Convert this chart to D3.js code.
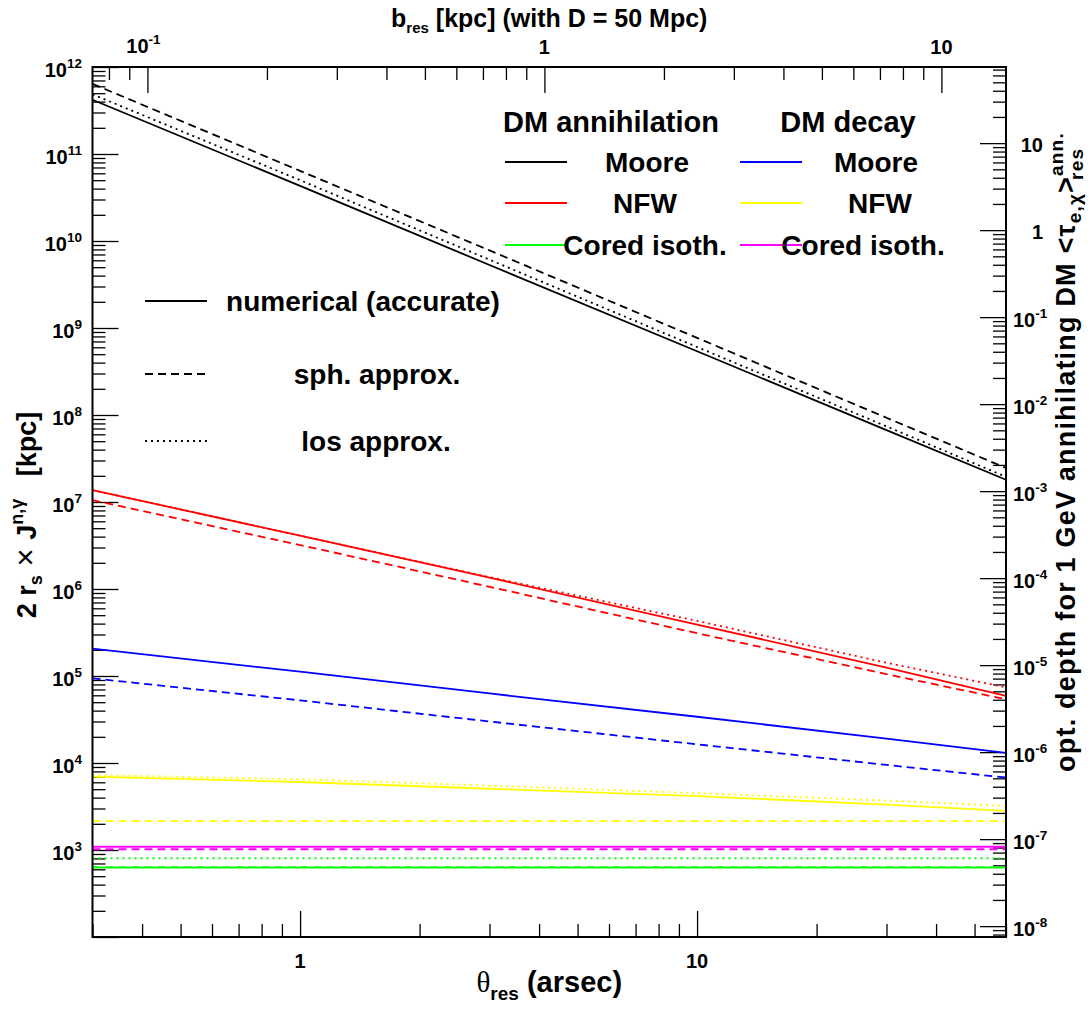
<!DOCTYPE html>
<head>
  <meta charset="UTF-8">
  <style>
    *{ margin: 0px; }
    svg{
      position: absolute;
      font-family: "Liberation Sans", Arial, sans-serif;
      font-weight: bold;
    }
    .lbl{ font-size: 20px; }
    .sup{ font-size: 13.5px; }
  </style>
  <script src="https://d3js.org/d3.v7.min.js"></script>
</head>

<body style="background-color: white">
  <svg id="chart" width="1091" height="1009" style="background-color: white"></svg>

  <script>
    // resolution angle (arcsec) at which the curves were read
    var theta = [0.3, 1, 3, 10, 30, 60];

    // DM annihilation, 2 r_s x J [kpc]
    var mooreAnnNum = [4.2e11, 4.3e10, 5.3e9, 5.4e8, 6.7e7, 1.8e7];
    var mooreAnnSph = [6.4e11, 6.4e10, 7.8e9, 7.7e8, 9.3e7, 2.46e7];
    var mooreAnnLos = [4.85e11, 5.0e10, 6.1e9, 6.05e8, 7.4e7, 1.95e7];
    var nfwAnnNum = [1.37e7, 4.1e6, 1.35e6, 3.9e5, 1.25e5, 5.9e4];
    var nfwAnnSph = [1.05e7, 3.2e6, 1.06e6, 3.1e5, 1.05e5, 5.4e4];
    var nfwAnnLos = [1.37e7, 4.1e6, 1.37e6, 4.3e5, 1.42e5, 7.4e4];
    var coredAnnNum = [626, 626, 626, 626, 626, 626];
    var coredAnnSph = [634, 634, 634, 634, 634, 634];
    var coredAnnLos = [804, 804, 804, 804, 804, 804];

    // DM decay
    var mooreDecNum = [2.06e5, 1.12e5, 6.3e4, 3.4e4, 1.91e4, 1.31e4];
    var mooreDecSph = [9.4e4, 5.25e4, 3.0e4, 1.64e4, 9.5e3, 6.8e3];
    var nfwDecNum = [6.97e3, 6.05e3, 5.06e3, 4.16e3, 3.33e3, 2.81e3];
    var nfwDecSph = [2150, 2150, 2150, 2150, 2150, 2150];
    var nfwDecLos = [7.28e3, 6.5e3, 5.5e3, 4.5e3, 3.7e3, 3.21e3];
    var coredDecNum = [1090, 1090, 1090, 1090, 1090, 1090];
    var coredDecSph = [1020, 1020, 1020, 1020, 1020, 1020];

    var KPC_PER_ARCSEC = 0.2424;   // D = 50 Mpc
    var TAU_PER_J = 7.5e-11;       // opt. depth for 1 GeV annihilating DM

    var series = [
      {v: mooreAnnLos, c: "#000000", s: "los"},
      {v: mooreAnnSph, c: "#000000", s: "sph"},
      {v: mooreAnnNum, c: "#000000", s: "num"},
      {v: nfwAnnLos, c: "#ff0000", s: "los"},
      {v: nfwAnnSph, c: "#ff0000", s: "sph"},
      {v: nfwAnnNum, c: "#ff0000", s: "num"},
      {v: mooreDecSph, c: "#0000ff", s: "sph"},
      {v: mooreDecNum, c: "#0000ff", s: "num"},
      {v: nfwDecLos, c: "#ffff00", s: "los"},
      {v: nfwDecSph, c: "#ffff00", s: "sph"},
      {v: nfwDecNum, c: "#ffff00", s: "num"},
      {v: coredDecSph, c: "#ff00ff", s: "sph"},
      {v: coredDecNum, c: "#ff00ff", s: "num"},
      {v: coredAnnLos, c: "#00ff00", s: "los"},
      {v: coredAnnSph, c: "#00ff00", s: "sph"},
      {v: coredAnnNum, c: "#00ff00", s: "num"}
    ];
    var dash = {num: null, sph: "8,5", los: "2,4"};

    var svg = d3.select("#chart");
    var L = 92.5, R = 1006, T = 67, B = 937;

    var x = d3.scaleLog().domain([0.3, 60]).range([L, R]);
    var y = d3.scaleLog().domain([1e2, 1e12]).range([B, T]);
    var xTop = d3.scaleLog().domain([0.3 * KPC_PER_ARCSEC, 60 * KPC_PER_ARCSEC]).range([L, R]);
    var yRight = d3.scaleLog().domain([1e2 * TAU_PER_J, 1e12 * TAU_PER_J]).range([B, T]);

    function minors(scale){
      var d = scale.domain(), out = [];
      for(var e = Math.floor(Math.log10(d[0])); e <= Math.ceil(Math.log10(d[1])); e++){
        for(var k = 2; k <= 9; k++){
          var v = k * Math.pow(10, e);
          if(v >= d[0] && v <= d[1]) out.push(v);
        }
      }
      return out;
    }
    function majors(scale){
      var d = scale.domain(), out = [];
      for(var e = Math.ceil(Math.log10(d[0]) - 1e-9); e <= Math.floor(Math.log10(d[1]) + 1e-9); e++){
        out.push(Math.pow(10, e));
      }
      return out;
    }

    function ticks(axisFn, scale, tx, ty){
      [[majors(scale), 26], [minors(scale), 13]].forEach(function(p){
        svg.append("g")
          .attr("transform", "translate(" + tx + "," + ty + ")")
          .call(axisFn(scale).tickValues(p[0]).tickSize(-p[1]).tickFormat(""))
          .call(g => g.select(".domain").remove())
          .selectAll("line").attr("stroke", "black").attr("stroke-width", 1.3);
      });
    }
    ticks(d3.axisLeft, y, L, 0);
    ticks(d3.axisBottom, x, 0, B);
    ticks(d3.axisTop, xTop, 0, T);
    ticks(d3.axisRight, yRight, R, 0);

    // curves
    var line = d3.line()
      .x((d, i) => x(theta[i]))
      .y(d => y(d));
    svg.append("g")
      .selectAll("path")
      .data(series)
      .join("path")
      .attr("d", d => line(d.v))
      .attr("fill", "none")
      .attr("stroke", d => d.c)
      .attr("stroke-width", 1.8)
      .attr("stroke-dasharray", d => dash[d.s]);

    // frame
    svg.append("rect")
      .attr("x", L).attr("y", T)
      .attr("width", R - L).attr("height", B - T)
      .attr("fill", "none").attr("stroke", "black").attr("stroke-width", 2);

    // tick labels
    function expLabel(px, py, e, anchor){
      var t = svg.append("text").attr("class", "lbl")
        .attr("x", px).attr("y", py).attr("text-anchor", anchor).text("10");
      t.append("tspan").attr("class", "sup").attr("dy", -9).text(e);
      return t;
    }
    majors(y).forEach(function(v){
      var e = Math.round(Math.log10(v));
      if(e < 3) return;
      expLabel(82, y(v) + 10, e, "end");
    });
    majors(yRight).forEach(function(v){
      var e = Math.round(Math.log10(v));
      if(e < 0) expLabel(1013, yRight(v) + 10, e, "start");
      else svg.append("text").attr("class", "lbl").attr("x", 1043).attr("y", yRight(v) + 9)
        .attr("text-anchor", "end").text(v);
    });
    majors(x).forEach(function(v){
      svg.append("text").attr("class", "lbl").attr("x", x(v)).attr("y", 968)
        .attr("text-anchor", "middle").text(v);
    });
    majors(xTop).forEach(function(v){
      var e = Math.round(Math.log10(v));
      if(e < 0) expLabel(xTop(v) - 4, 53, e, "middle");
      else svg.append("text").attr("class", "lbl").attr("x", xTop(v)).attr("y", 54)
        .attr("text-anchor", "middle").text(v);
    });

    // axis titles
    var bt = svg.append("text").attr("x", (L + R) / 2).attr("y", 992)
      .attr("text-anchor", "middle").attr("font-size", "29px");
    bt.append("tspan").attr("font-family", "Liberation Serif").attr("font-weight", "normal").text("θ");
    bt.append("tspan").attr("font-size", "19px").attr("dy", 8).text("res");
    bt.append("tspan").attr("dy", -8).text(" (arsec)");

    var tt = svg.append("text").attr("x", (L + R) / 2).attr("y", 27)
      .attr("text-anchor", "middle").attr("font-size", "25px");
    tt.append("tspan").text("b");
    tt.append("tspan").attr("font-size", "15px").attr("dy", 6).text("res");
    tt.append("tspan").attr("dy", -6).text(" [kpc] (with D = 50 Mpc)");

    var lt = svg.append("text").attr("transform", "translate(36,515) rotate(-90)")
      .attr("text-anchor", "middle").attr("font-size", "27px").style("white-space", "pre");
    lt.append("tspan").text("2 r");
    lt.append("tspan").attr("font-size", "18px").attr("dy", 6).text("s");
    lt.append("tspan").attr("dy", -6).attr("font-weight", "normal").attr("font-size", "31px").text(" × ");
    lt.append("tspan").text("J");
    lt.append("tspan").attr("font-size", "18px").attr("dy", -13).text("n,γ");
    lt.append("tspan").attr("dy", 13).text("   [kpc]");

    var rt = svg.append("text").attr("transform", "translate(1075,452) rotate(-90)")
      .attr("text-anchor", "middle").attr("font-size", "27px").attr("letter-spacing", "1.2px");
    rt.append("tspan").text("opt. depth for 1 GeV annihilating DM <τ");
    rt.append("tspan").attr("font-size", "19px").attr("dy", 6).text("e,χ");
    rt.append("tspan").attr("dy", -6).text(">");
    var ann = rt.append("tspan").attr("font-size", "19px").attr("dy", -12).text("ann.");
    rt.append("tspan").attr("font-size", "19px").attr("dy", 20)
      .attr("dx", -ann.node().getComputedTextLength() - 4).text("res");

    // legend: profiles
    var profiles = [
      {x0: 505, rows: [["Moore", "#000000", 647], ["NFW", "#ff0000", 645], ["Cored isoth.", "#00ff00", 645]], head: ["DM annihilation", 611]},
      {x0: 740, rows: [["Moore", "#0000ff", 876], ["NFW", "#ffff00", 880], ["Cored isoth.", "#ff00ff", 863]], head: ["DM decay", 848]}
    ];
    var rowY = [162, 203, 245];
    profiles.forEach(function(p){
      svg.append("text").attr("x", p.head[1]).attr("y", 132).attr("text-anchor", "middle")
        .attr("font-size", "29px").text(p.head[0]);
      p.rows.forEach(function(r, i){
        svg.append("line").attr("x1", p.x0).attr("x2", p.x0 + 62)
          .attr("y1", rowY[i]).attr("y2", rowY[i]).attr("stroke", r[1]).attr("stroke-width", 1.8);
        svg.append("text").attr("x", r[2]).attr("y", rowY[i] + 10).attr("text-anchor", "middle")
          .attr("font-size", "28px").text(r[0]);
      });
    });

    // legend: methods
    var methods = [["numerical (accurate)", "num", 301, 363], ["sph. approx.", "sph", 374, 377], ["los approx.", "los", 441, 376]];
    methods.forEach(function(m){
      svg.append("line").attr("x1", 145).attr("x2", 207).attr("y1", m[2]).attr("y2", m[2])
        .attr("stroke", "black").attr("stroke-width", 1.8).attr("stroke-dasharray", dash[m[1]]);
      svg.append("text").attr("x", m[3]).attr("y", m[2] + 10).attr("text-anchor", "middle")
        .attr("font-size", "28px").text(m[0]);
    });
  </script>
</body>
